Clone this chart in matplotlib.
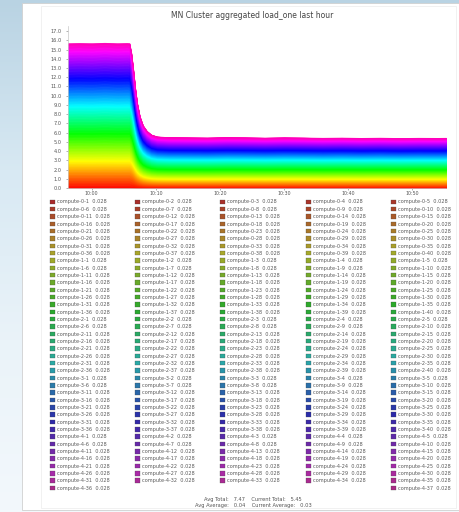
import colorsys

import numpy as np
import matplotlib
matplotlib.use("Agg")
import matplotlib.pyplot as plt
from matplotlib.patches import Rectangle
from matplotlib.colors import LinearSegmentedColormap

W, H = 459, 512

# ---- data ----
title = "MN Cluster aggregated load_one last hour"

# minutes after 09:00
times = [56.3, 58, 60, 62, 64, 65.5, 65.9, 66.2, 66.5, 66.8, 67.1, 67.5, 68.0,
         68.6, 69.3, 70.2, 72, 75, 78, 81, 84, 87, 90, 93, 96, 99, 102, 105,
         108, 111, 114, 115.3]
total_load = [15.7, 15.72, 15.7, 15.74, 15.7, 15.72, 15.7, 14.6, 12.8, 10.8,
              9.2, 7.8, 6.8, 6.2, 5.8, 5.6, 5.52, 5.5, 5.48, 5.52, 5.5,
              5.47, 5.5, 5.48, 5.45, 5.47, 5.44, 5.46, 5.43, 5.45, 5.44, 5.45]

tick_times = [60, 70, 80, 90, 100, 110]
tick_labels = ["10:00", "10:10", "10:20", "10:30", "10:40", "10:50"]
y_ticks = list(range(18))

n_nodes = 197
node_share = np.full(n_nodes, 1.0 / n_nodes)   # all nodes carry about the same load
node_names = ["compute-%d-%d" % (i // 40, i % 40 + 1) for i in range(n_nodes)]

summary_lines = ["Avg Total:   7.47    Current Total:   5.45",
                 "Avg Average:   0.04    Current Average:   0.03"]


def fx(px):
    return px / W


def fy(py):
    return 1 - py / H


fig = plt.figure(figsize=(W / 100, H / 100), dpi=100)

# page background behind the graph image
bg = fig.add_axes([0, 0, 1, 1], zorder=-10)
sky = LinearSegmentedColormap.from_list("sky", ["#b9d3e3", "#d8e9f3", "#eaf3f9", "#f3f8fc"])
bg.imshow(np.linspace(0, 1, 256)[:, None], aspect="auto", cmap=sky, extent=[0, 1, 0, 1])
bg.axis("off")

fig.add_artist(Rectangle((fx(22), fy(510)), fx(459 - 22), (510 - 3) / H,
                         transform=fig.transFigure, fc="white", ec="#d0d0d0",
                         lw=0.6, zorder=-5))
fig.add_artist(Rectangle((fx(41), fy(508)), fx(456 - 41), (508 - 6) / H,
                         transform=fig.transFigure, fc="white", ec="#ececec",
                         lw=0.5, zorder=-4))

# ---- stacked area ----
ax = fig.add_axes([fx(68), fy(188), fx(446 - 68), (188 - 26) / H])
total = np.array(total_load)
hues = np.linspace(0.0, 0.88, n_nodes)
colors = [colorsys.hsv_to_rgb(h, 1.0, 1.0) for h in hues]

base = np.zeros_like(total)
for share, col in zip(node_share, colors):
    top = base + total * share
    ax.fill_between(times, base, top, color=col, lw=0.4, ec=col)
    base = top

ax.set_xlim(times[0], times[-1])
ax.set_ylim(0, 17.55)
ax.set_xticks(tick_times)
ax.set_xticklabels(tick_labels)
ax.set_yticks(y_ticks)
ax.set_yticklabels(["%.1f" % v for v in y_ticks])
ax.tick_params(axis="y", labelsize=3.6, colors="#777777", length=1.5, width=0.4, pad=3)
ax.tick_params(axis="x", labelsize=3.4, colors="#777777", length=1.2, width=0.4, pad=1)
for lab in ax.get_xticklabels() + ax.get_yticklabels():
    lab.set_color("#555555")
for s in ["top", "right"]:
    ax.spines[s].set_visible(False)
for s in ["left", "bottom"]:
    ax.spines[s].set_color("#c8c8c8")
    ax.spines[s].set_linewidth(0.5)

fig.text(fx(252), fy(16), title, ha="center", va="center", fontsize=5.5, color="#444444")

# ---- legend, row by row ----
col_x = [52, 137, 222, 308, 393]
row_y0, row_dy = 202, 7.34
slots = [(r, c) for r in range(39) for c in range(5)] + [(39, 0), (39, 4)]
current = total[-1] * node_share
for i, (r, c) in enumerate(slots):
    x = col_x[c]
    y = row_y0 + r * row_dy
    sw = tuple(0.5 * v + 0.5 * 0.33 for v in colors[i])
    fig.add_artist(Rectangle((fx(x - 2), fy(y + 2)), fx(4.5), 4.5 / H,
                             transform=fig.transFigure, fc=sw, ec="#444444", lw=0.2))
    fig.text(fx(x + 5), fy(y), "%s  %.3f" % (node_names[i], current[i]),
             ha="left", va="center", fontsize=3.6, color="#5a5a5a")

fig.text(fx(253), fy(499), summary_lines[0], ha="center", va="center", fontsize=3.7, color="#555555")
fig.text(fx(253), fy(506), summary_lines[1], ha="center", va="center", fontsize=3.7, color="#555555")

fig.savefig("out.png", dpi=100)
